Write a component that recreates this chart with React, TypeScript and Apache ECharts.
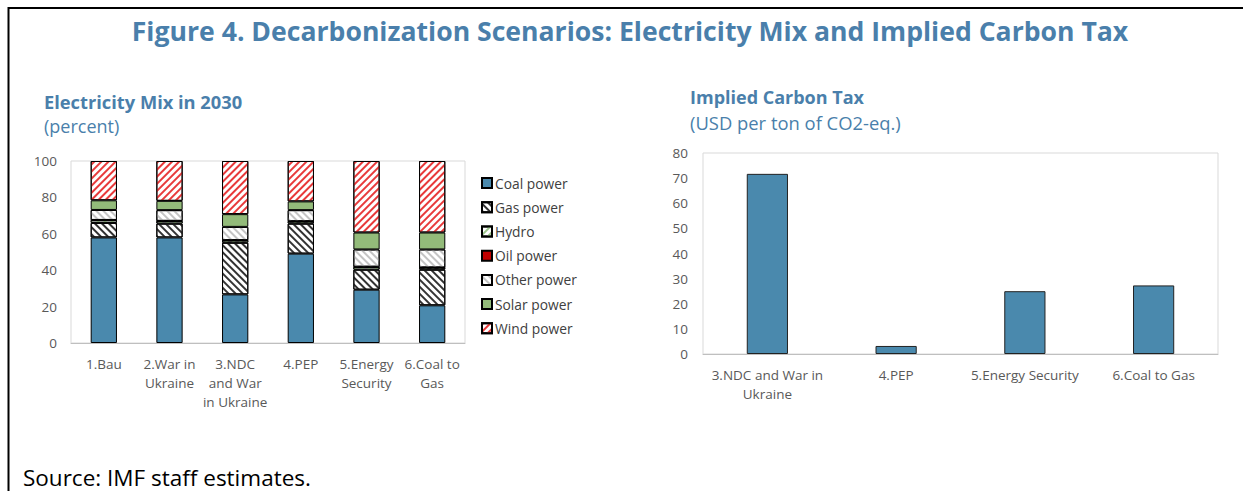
import React, { useEffect, useRef } from "react";
import * as echarts from "echarts";

const mixCategories = ["1.Bau", "2.War in\nUkraine", "3.NDC\nand War\nin Ukraine", "4.PEP", "5.Energy\nSecurity", "6.Coal to\nGas"];
const coalPower = [58, 58, 26.7, 49.1, 29.3, 20.7];
const gasPower = [8, 7.6, 28.4, 16.5, 11, 19.6];
const hydroPower = [1.5, 1.4, 1.3, 1.2, 1.5, 1.1];
const oilPower = [0.1, 0.1, 0.1, 0.1, 0.1, 0.1];
const otherPower = [5.5, 5.9, 7.3, 6.1, 9.5, 9.9];
const solarPower = [5.3, 5.1, 7, 4.8, 9.3, 9.3];
const windPower = [21.6, 21.9, 29.2, 22.2, 39.3, 39.3];
const mixTicks = [0, 20, 40, 60, 80, 100];

const taxCategories = ["3.NDC and War in\nUkraine", "4.PEP", "5.Energy Security", "6.Coal to Gas"];
const carbonTax = [71.7, 3.2, 25.0, 27.3];
const taxTicks = [0, 10, 20, 30, 40, 50, 60, 70, 80];

const FONT = "'Open Sans', 'Noto Sans', sans-serif";
const BLUE = "#4a7fab";
const COAL = "#4a89ad";

function hatch(color: string, rot: number, line = 2, gap = 3) {
  return {
    symbol: "rect",
    symbolSize: 1,
    color,
    dashArrayX: [1, 0],
    dashArrayY: [line, gap],
    rotation: rot,
  };
}

export default function App() {
  const ref = useRef<HTMLDivElement>(null);
  useEffect(() => {
    document.body.style.margin = "0";
    const chart = echarts.init(ref.current!, null, { renderer: "svg" });
    const border = { borderColor: "#000", borderWidth: 1 };
    const mixSeries = [
      { name: "Coal power", data: coalPower, itemStyle: { color: COAL, ...border } },
      { name: "Gas power", data: gasPower, itemStyle: { color: "#fff", ...border, decal: hatch("#333", Math.PI / 4, 1.5, 2.5) } },
      { name: "Hydro", data: hydroPower, itemStyle: { color: "#fff", ...border, decal: hatch("#9bc58a", -Math.PI / 4, 1.5, 3) } },
      { name: "Oil power", data: oilPower, itemStyle: { color: "#c00000", ...border } },
      { name: "Other power", data: otherPower, itemStyle: { color: "#fff", ...border, decal: hatch("#c4c4c4", Math.PI / 4, 2, 3) } },
      { name: "Solar power", data: solarPower, itemStyle: { color: "#93bb7a", ...border } },
      { name: "Wind power", data: windPower, itemStyle: { color: "#fff", ...border, decal: hatch("#e8393a", -Math.PI / 4, 2, 2.5) } },
    ].map((s) => ({
      ...s,
      type: "bar",
      stack: "mix",
      xAxisIndex: 0,
      yAxisIndex: 0,
      barWidth: "40%",
    }));

    const labelStyle = { color: "#595959", fontSize: 13.5, fontFamily: FONT };
    const xAxisCommon = {
      type: "category",
      axisLine: { lineStyle: { color: "#bfbfbf" } },
      axisTick: { inside: true, length: 4, lineStyle: { color: "#bfbfbf" } },
      axisLabel: { ...labelStyle, lineHeight: 19, interval: 0 },
    };
    const yAxisCommon = {
      type: "value",
      axisLine: { show: false },
      axisTick: { show: false },
      splitLine: { show: false },
    };

    chart.setOption({
      animation: false,
      textStyle: { fontFamily: FONT },
      grid: [
        { left: 71, top: 161, width: 394, height: 182, show: true, borderColor: "#d9d9d9", borderWidth: 1 },
        { left: 703, top: 153, width: 515, height: 201, show: true, borderColor: "#d9d9d9", borderWidth: 1 },
      ],
      xAxis: [
        { ...xAxisCommon, gridIndex: 0, data: mixCategories, axisLabel: { ...xAxisCommon.axisLabel, margin: 11 } },
        { ...xAxisCommon, gridIndex: 1, data: taxCategories, axisLabel: { ...xAxisCommon.axisLabel, margin: 11 } },
      ],
      yAxis: [
        {
          ...yAxisCommon,
          gridIndex: 0,
          min: mixTicks[0],
          max: mixTicks[mixTicks.length - 1],
          interval: mixTicks[1] - mixTicks[0],
          axisLabel: { ...labelStyle, margin: 14 },
        },
        {
          ...yAxisCommon,
          gridIndex: 1,
          min: taxTicks[0],
          max: taxTicks[taxTicks.length - 1],
          interval: taxTicks[1] - taxTicks[0],
          axisLabel: { ...labelStyle, margin: 15 },
        },
      ],
      legend: {
        orient: "vertical",
        left: 476,
        top: 171,
        icon: "rect",
        itemWidth: 10,
        itemHeight: 10,
        itemGap: 10,
        textStyle: { fontSize: 13.8, color: "#404040", fontFamily: FONT, lineHeight: 14.2, padding: [0, 0, 0, -2] },
        data: mixSeries.map((s) => s.name),
      },
      series: [
        ...mixSeries,
        {
          name: "Implied Carbon Tax",
          type: "bar",
          xAxisIndex: 1,
          yAxisIndex: 1,
          data: carbonTax,
          barWidth: "32%",
          itemStyle: { color: COAL, borderColor: "#222", borderWidth: 1 },
        },
      ],
      graphic: [
        { type: "line", shape: { x1: 8.5, y1: 8, x2: 1243, y2: 8 }, style: { stroke: "#000", lineWidth: 2 } },
        { type: "line", shape: { x1: 8.5, y1: 7, x2: 8.5, y2: 491 }, style: { stroke: "#000", lineWidth: 2 } },
        {
          type: "text",
          x: 630,
          y: 31,
          style: { text: "Figure 4. Decarbonization Scenarios: Electricity Mix and Implied Carbon Tax", fill: BLUE, font: `bold 26.6px ${FONT}`, textAlign: "center", textVerticalAlign: "middle" },
        },
        { type: "text", x: 44, y: 101, style: { text: "Electricity Mix in 2030", fill: BLUE, font: `bold 18.3px ${FONT}`, textVerticalAlign: "middle" } },
        { type: "text", x: 44, y: 126, style: { text: "(percent)", fill: BLUE, font: `18px ${FONT}`, textVerticalAlign: "middle" } },
        { type: "text", x: 690, y: 97, style: { text: "Implied Carbon Tax", fill: BLUE, font: `bold 18px ${FONT}`, textVerticalAlign: "middle" } },
        { type: "text", x: 690, y: 122, style: { text: "(USD per ton of CO2-eq.)", fill: BLUE, font: `18.4px ${FONT}`, textVerticalAlign: "middle" } },
        { type: "text", x: 23, y: 477, style: { text: "Source: IMF staff estimates.", fill: "#000", font: `22.5px ${FONT}`, textVerticalAlign: "middle" } },
      ],
    });
    return () => chart.dispose();
  }, []);
  return <div ref={ref} style={{ position: "fixed", left: 0, top: 0, width: 1243, height: 491, background: "#fff" }} />;
}
